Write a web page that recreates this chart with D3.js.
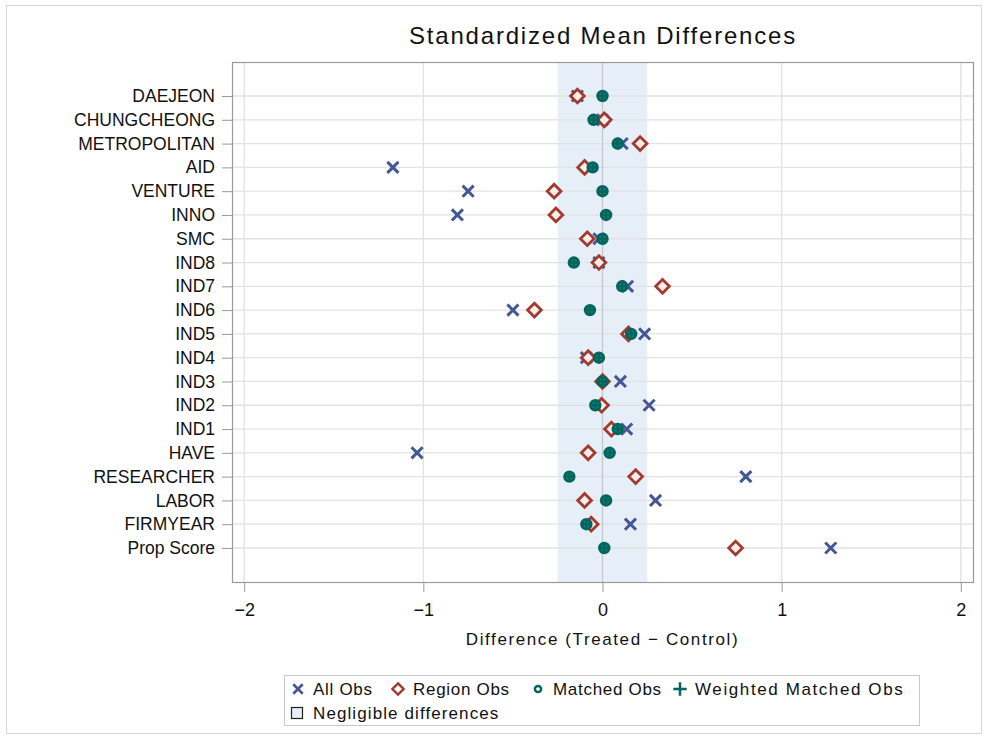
<!DOCTYPE html>
<html>
<head>
<meta charset="utf-8">
<script src="https://cdn.jsdelivr.net/npm/d3@7"></script>
<style>
  body { margin: 0; background: #fff; }
  text { font-family: "Liberation Sans", Arial, sans-serif; fill: #111; }
</style>
</head>
<body>
<div id="vis"></div>
<script>
// data
let vars = ["DAEJEON", "CHUNGCHEONG", "METROPOLITAN", "AID", "VENTURE", "INNO", "SMC",
    "IND8", "IND7", "IND6", "IND5", "IND4", "IND3", "IND2", "IND1", "HAVE",
    "RESEARCHER", "LABOR", "FIRMYEAR", "Prop Score"]
let allObs      = [-0.14, 0.00, 0.11, -1.17, -0.75, -0.81, -0.02, -0.02, 0.14, -0.50, 0.235, -0.09, 0.10, 0.26, 0.135, -1.035, 0.80, 0.296, 0.156, 1.274]
let regionObs   = [-0.14, 0.01, 0.21, -0.10, -0.27, -0.26, -0.085, -0.02, 0.335, -0.38, 0.145, -0.08, 0.00, -0.005, 0.05, -0.08, 0.185, -0.10, -0.063, 0.743]
let matchedObs  = [0.00, -0.05, 0.085, -0.055, 0.00, 0.02, 0.00, -0.16, 0.11, -0.07, 0.16, -0.02, 0.00, -0.04, 0.085, 0.04, -0.185, 0.02, -0.09, 0.01]
let weightedObs = [0.00, -0.05, 0.085, -0.055, 0.00, 0.02, 0.00, -0.16, 0.11, -0.07, 0.16, -0.02, 0.00, -0.04, 0.085, 0.04, -0.185, 0.02, -0.09, 0.01]
let xTicks = [-2, -1, 0, 1, 2]
let negligible = [-0.25, 0.25]

let svgWidth = 986
let svgHeight = 738

let margin = { left: 232, right: 13, top: 62, bottom: 156 }
let width = svgWidth - margin.left - margin.right
let height = svgHeight - margin.top - margin.bottom

let colors = { all: "#445694", region: "#A23A2E", matched: "#01665E", weighted: "#01665E" }

let root = d3.select('#vis')
    .append('svg')
    .attr('width', svgWidth)
    .attr('height', svgHeight)

// outer border
root.append('rect')
    .attr('x', 6.5).attr('y', 5.5)
    .attr('width', 975).attr('height', 728)
    .attr('fill', 'none').attr('stroke', '#d8d8d8')

root.append('text')
    .attr('x', 603).attr('y', 44)
    .attr('text-anchor', 'middle')
    .style('font-size', '24px')
    .style('letter-spacing', '1.8px')
    .text('Standardized Mean Differences')

let svg = root.append('g')
    .attr('transform', `translate(${margin.left},${margin.top})`)

// scales
let xScale = d3.scaleLinear()
    .domain([-2.068, 2.068])
    .range([0, width])

let yScale = d3.scalePoint()
    .domain(vars)
    .range([0, height])
    .padding(1.43)

// negligible band
svg.append('rect')
    .attr('x', xScale(negligible[0]))
    .attr('width', xScale(negligible[1]) - xScale(negligible[0]))
    .attr('y', 0).attr('height', height)
    .attr('fill', '#e6eef8')

// grid lines
svg.selectAll('.hgrid')
    .data(vars)
    .join('line')
    .attr('class', 'hgrid')
    .attr('x1', 0).attr('x2', width)
    .attr('y1', d => yScale(d)).attr('y2', d => yScale(d))
    .attr('stroke', '#e2e2e2').attr('stroke-width', 1.3)

svg.selectAll('.vgrid')
    .data(xTicks)
    .join('line')
    .attr('class', 'vgrid')
    .attr('x1', d => xScale(d)).attr('x2', d => xScale(d))
    .attr('y1', 0).attr('y2', height)
    .attr('stroke', d => d == 0 ? '#c4c8d0' : '#e2e2e2').attr('stroke-width', 1.3)

// markers
function marks(vals, type, size, color, fill, sw) {
    svg.append('g')
        .selectAll('path')
        .data(vals)
        .join('path')
        .attr('transform', (d, i) => `translate(${xScale(d)},${yScale(vars[i])})`)
        .attr('d', d3.symbol().type(type).size(size))
        .attr('fill', fill)
        .attr('stroke', color)
        .attr('stroke-width', sw)
}
marks(allObs, d3.symbolX, 82, colors.all, 'none', 3)
marks(regionObs, d3.symbolDiamond2, 120, colors.region, '#fbeeea', 2.8)
marks(matchedObs, d3.symbolCircle, 70, colors.matched, '#2c7f77', 3)
marks(weightedObs, d3.symbolPlus, 36, colors.weighted, 'none', 2.5)

// frame
svg.append('rect')
    .attr('x', 0.5).attr('y', 0.5)
    .attr('width', width).attr('height', height)
    .attr('fill', 'none').attr('stroke', '#9a9a9a').attr('stroke-width', 1.2)

// axes
let xAxis = d3.axisBottom(xScale)
    .tickValues(xTicks)
    .tickSize(10)
    .tickPadding(11)
    .tickFormat(d => d < 0 ? '\u2212' + Math.abs(d) : d)

svg.append('g')
    .attr('id', 'x-axis')
    .attr('transform', `translate(0,${height})`)
    .call(xAxis)

svg.append('g')
    .attr('id', 'y-axis')
    .call(d3.axisLeft(yScale).tickSize(10).tickPadding(7))

svg.selectAll('#x-axis path.domain, #y-axis path.domain').remove()
svg.selectAll('.tick line').attr('stroke', '#9a9a9a')
svg.selectAll('.tick text').style('font-size', '17.5px').style('font-family', '"Liberation Sans", Arial, sans-serif').attr('fill', '#111')
svg.selectAll('#x-axis .tick text').style('font-size', '18px')

svg.append('text')
    .attr('x', xScale(0)).attr('y', height + 63)
    .attr('text-anchor', 'middle')
    .style('font-size', '17px')
    .style('letter-spacing', '1.6px')
    .text('Difference (Treated \u2212 Control)')

// legend
let legend = root.append('g')
legend.append('rect')
    .attr('x', 284.5).attr('y', 675.5)
    .attr('width', 635).attr('height', 50)
    .attr('fill', '#fff').attr('stroke', '#c8c8c8')

let legendItems = [
    { label: "All Obs", x: 298, y: 689, type: d3.symbolX, size: 60, color: colors.all, fill: 'none', sw: 2.6 },
    { label: "Region Obs", x: 398, y: 689, type: d3.symbolDiamond2, size: 80, color: colors.region, fill: 'none', sw: 2.4 },
    { label: "Matched Obs", x: 538, y: 689, type: d3.symbolCircle, size: 30, color: colors.matched, fill: 'none', sw: 2.5 },
    { label: "Weighted Matched Obs", x: 680, y: 689, type: d3.symbolPlus, size: 60, color: colors.weighted, fill: 'none', sw: 2.5 }
]
legendItems.forEach(it => {
    legend.append('path')
        .attr('transform', `translate(${it.x},${it.y})`)
        .attr('d', d3.symbol().type(it.type).size(it.size))
        .attr('fill', it.fill).attr('stroke', it.color).attr('stroke-width', it.sw)
    legend.append('text')
        .attr('x', it.x + 15).attr('y', it.y + 6)
        .style('font-size', '17px')
        .style('letter-spacing', it.label.length > 15 ? '1.6px' : '0.7px')
        .text(it.label)
})
legend.append('rect')
    .attr('x', 291.5).attr('y', 707.5)
    .attr('width', 11).attr('height', 11)
    .attr('fill', '#e6eef8').attr('stroke', '#222').attr('stroke-width', 1.2)
legend.append('text')
    .attr('x', 313).attr('y', 719)
    .style('font-size', '17px')
    .style('letter-spacing', '1.1px')
    .text('Negligible differences')
</script>
</body>
</html>
